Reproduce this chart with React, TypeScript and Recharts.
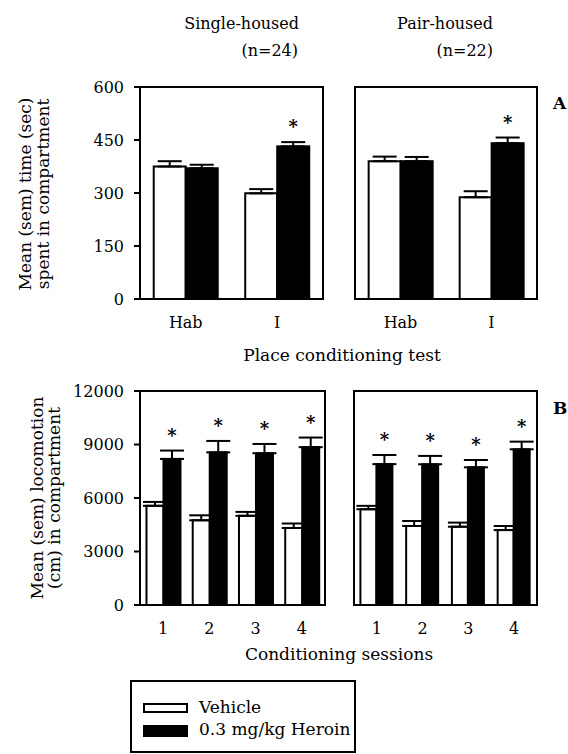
import { BarChart, Bar, XAxis, YAxis, ErrorBar, ReferenceArea } from "recharts";

// categories
const placeTests = ["Hab", "I"];
const sessions = ["1", "2", "3", "4"];
const seriesNames = ["Vehicle", "0.3 mg/kg Heroin"];
const seriesColors = ["#ffffff", "#000000"];

// panel A: time spent in compartment (sec)
const singleVehicleA = [375, 299];
const singleVehicleSemA = [15, 12];
const singleHeroinA = [370, 432];
const singleHeroinSemA = [10, 12];
const singleStarsA = [false, true];

const pairVehicleA = [390, 288];
const pairVehicleSemA = [13, 17];
const pairHeroinA = [390, 441];
const pairHeroinSemA = [12, 16];
const pairStarsA = [false, true];

// panel B: locomotion (cm)
const singleVehicleB = [5560, 4750, 5000, 4320];
const singleVehicleSemB = [220, 280, 220, 250];
const singleHeroinB = [8190, 8560, 8510, 8850];
const singleHeroinSemB = [470, 640, 520, 540];
const singleStarsB = [true, true, true, true];

const pairVehicleB = [5370, 4430, 4390, 4200];
const pairVehicleSemB = [190, 280, 230, 230];
const pairHeroinB = [7900, 7890, 7720, 8730];
const pairHeroinSemB = [510, 470, 410, 430];
const pairStarsB = [true, true, true, true];

const ticksA = [0, 150, 300, 450, 600];
const ticksB = [0, 3000, 6000, 9000, 12000];

const FONT = "'DejaVu Serif', serif";

const makeRows = (
  cats: string[],
  veh: number[],
  vehSem: number[],
  her: number[],
  herSem: number[],
  stars: boolean[]
) =>
  cats.map((c, i) => ({
    label: c,
    vehicle: veh[i],
    vehicleErr: [0, vehSem[i]],
    heroin: her[i],
    heroinErr: [0, herSem[i]],
    star: stars[i],
  }));

const HeroinShape = (props: any) => {
  const { x, y, width, height, payload } = props;
  const pxPerUnit = height / payload.heroin;
  const errTop = y - payload.heroinErr[1] * pxPerUnit;
  return (
    <g>
      <rect x={x} y={y} width={width} height={height} fill={seriesColors[1]} stroke="#000" strokeWidth={2} />
      {payload.star && (
        <text
          x={x + width / 2}
          y={errTop - 9}
          textAnchor="middle"
          fontSize={18}
          fontWeight="bold"
          fontFamily={FONT}
          fill="#000"
        >
          *
        </text>
      )}
    </g>
  );
};

const axisLine = { stroke: "#000", strokeWidth: 2 };
const tickStyle = { fontFamily: FONT, fontSize: 16, fill: "#000" };

interface PanelProps {
  rows: any[];
  ticks: number[];
  width: number;
  height: number;
  left: number;
  top: number;
  showTicks: boolean;
  gap: string;
  capWidth: number;
}

const Panel = ({ rows, ticks, width, height, left, top, showTicks, gap, capWidth }: PanelProps) => (
  <div style={{ position: "absolute", left, top }}>
    <BarChart
      width={width}
      height={height}
      data={rows}
      margin={{ top: 10, right: 10, bottom: 0, left: showTicks ? 0 : 10 }}
      barCategoryGap={gap}
      barGap={0}
    >
      <XAxis
        dataKey="label"
        axisLine={axisLine}
        tickLine={false}
        tick={tickStyle}
        tickMargin={12}
        height={40}
        interval={0}
      />
      <YAxis
        domain={[0, ticks[ticks.length - 1]]}
        ticks={ticks}
        axisLine={axisLine}
        tickLine={showTicks ? { stroke: "#000", strokeWidth: 2 } : false}
        tick={showTicks ? tickStyle : false}
        tickSize={6}
        tickMargin={10}
        width={showTicks ? 140 : 0}
        interval={0}
      />
      <ReferenceArea
        y1={0}
        y2={ticks[ticks.length - 1]}
        fill="none"
        fillOpacity={0}
        stroke="#000"
        strokeWidth={2}
        ifOverflow="visible"
      />
      <Bar dataKey="vehicle" fill={seriesColors[0]} stroke="#000" strokeWidth={2} isAnimationActive={false}>
        <ErrorBar dataKey="vehicleErr" width={capWidth} stroke="#000" strokeWidth={2} direction="y" />
      </Bar>
      <Bar dataKey="heroin" fill={seriesColors[1]} shape={HeroinShape} isAnimationActive={false}>
        <ErrorBar dataKey="heroinErr" width={capWidth} stroke="#000" strokeWidth={2} direction="y" />
      </Bar>
    </BarChart>
  </div>
);

const YTitle = ({ x1, x2, cy, lines }: { x1: number; x2: number; cy: number; lines: string[] }) => (
  <g fontSize={17} fontFamily={FONT} fill="#000">
    <text transform={`translate(${x1},${cy}) rotate(-90)`} textAnchor="middle" dominantBaseline="central">
      {lines[0]}
    </text>
    <text transform={`translate(${x2},${cy}) rotate(-90)`} textAnchor="middle" dominantBaseline="central">
      {lines[1]}
    </text>
  </g>
);

export default function App() {
  const singleA = makeRows(placeTests, singleVehicleA, singleVehicleSemA, singleHeroinA, singleHeroinSemA, singleStarsA);
  const pairA = makeRows(placeTests, pairVehicleA, pairVehicleSemA, pairHeroinA, pairHeroinSemA, pairStarsA);
  const singleB = makeRows(sessions, singleVehicleB, singleVehicleSemB, singleHeroinB, singleHeroinSemB, singleStarsB);
  const pairB = makeRows(sessions, pairVehicleB, pairVehicleSemB, pairHeroinB, pairHeroinSemB, pairStarsB);

  return (
    <div style={{ position: "absolute", left: 0, top: 0, width: 568, height: 754, background: "#fff", fontFamily: FONT }}>
      <Panel rows={singleA} ticks={ticksA} width={333} height={262} left={0} top={77} showTicks gap="15%" capWidth={12} />
      <Panel rows={pairA} ticks={ticksA} width={202} height={262} left={345} top={77} showTicks={false} gap="15%" capWidth={12} />
      <Panel rows={singleB} ticks={ticksB} width={335} height={264} left={0} top={381} showTicks gap="14%" capWidth={12} />
      <Panel rows={pairB} ticks={ticksB} width={203} height={264} left={344} top={381} showTicks={false} gap="14%" capWidth={12} />

      <svg width={568} height={754} style={{ position: "absolute", left: 0, top: 0, pointerEvents: "none" }}>
        <g fontFamily={FONT} fill="#000" fontSize={16} textAnchor="end">
          <text x={299} y={29}>Single-housed</text>
          <text x={298} y={56}>(n=24)</text>
          <text x={493} y={29}>Pair-housed</text>
          <text x={493} y={56}>(n=22)</text>
        </g>
        <g fontFamily={FONT} fill="#000" fontSize={17} fontWeight="bold">
          <text x={553} y={109}>A</text>
          <text x={553} y={414}>B</text>
        </g>
        <g fontFamily={FONT} fill="#000" fontSize={17} textAnchor="middle">
          <text x={342} y={361}>Place conditioning test</text>
          <text x={339} y={660}>Conditioning sessions</text>
        </g>
        <YTitle x1={25} x2={43} cy={194} lines={["Mean (sem) time (sec)", "spent in compartment"]} />
        <YTitle x1={37} x2={54} cy={498} lines={["Mean (sem) locomotion", "(cm) in compartment"]} />

        <rect x={131} y={681} width={224} height={71} fill="#fff" stroke="#000" strokeWidth={2} />
        <rect x={144} y={704} width={43} height={8} fill={seriesColors[0]} stroke="#000" strokeWidth={2} />
        <rect x={143} y={725} width={45} height={12} fill={seriesColors[1]} />
        <g fontFamily={FONT} fill="#000" fontSize={17}>
          <text x={199} y={713}>{seriesNames[0]}</text>
          <text x={199} y={735}>{seriesNames[1]}</text>
        </g>
      </svg>
    </div>
  );
}
